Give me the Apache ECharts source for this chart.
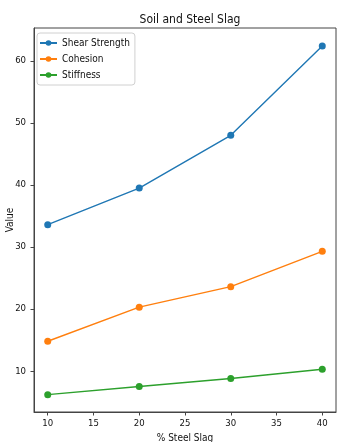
<!DOCTYPE html>
<html>
<head>
<meta charset="utf-8">
<script src="https://cdn.jsdelivr.net/npm/echarts@6/dist/echarts.min.js"></script>
<style>html,body{margin:0;padding:0;background:#fff;}#c{width:344px;height:442px;}</style>
</head>
<body>
<div id="c"></div>
<script>
var xValues = [10, 20, 30, 40];
var shearStrength = [33.6, 39.5, 48.0, 62.4];
var cohesion = [14.8, 20.3, 23.6, 29.3];
var stiffness = [6.2, 7.5, 8.8, 10.3];
var xTicks = [10, 15, 20, 25, 30, 35, 40];
var yTicks = [10, 20, 30, 40, 50, 60];

var FONT = "'DejaVu Sans Condensed', 'DejaVu Sans', sans-serif";
function pairs(ys) { return xValues.map(function (x, i) { return [x, ys[i]]; }); }
function series(name, ys, color) {
  return {
    name: name, type: 'line', data: pairs(ys),
    symbol: 'circle', symbolSize: 7,
    lineStyle: { color: color, width: 1.4 },
    itemStyle: { color: color },
    emphasis: { disabled: true },
    animation: false
  };
}
var chart = echarts.init(document.getElementById('c'), null, { renderer: 'canvas' });
chart.setOption({
  animation: false,
  backgroundColor: '#fff',
  title: {
    text: 'Soil and Steel Slag', left: 185, top: 9, textAlign: 'center',
    textStyle: { fontFamily: FONT, fontSize: 12, fontWeight: 'normal', color: '#111' }
  },
  legend: {
    orient: 'vertical', left: 37, top: 33,
    itemWidth: 17, itemHeight: 7, itemGap: 4,
    padding: [4, 5, 4, 2],
    borderColor: '#d0d0d0', borderWidth: 1, borderRadius: 3,
    backgroundColor: 'rgba(255,255,255,0.8)',
    textStyle: { fontFamily: FONT, fontSize: 10, color: '#111', lineHeight: 12 }
  },
  grid: { left: 34, right: 8, top: 28, bottom: 30, containLabel: false, outerBoundsMode: 'none', show: true, borderColor: '#444', borderWidth: 1, backgroundColor: 'transparent' },
  xAxis: {
    type: 'value', min: 8.5, max: 41.5,
    name: '% Steel Slag', nameLocation: 'middle', nameGap: 21, nameMoveOverlap: false,
    nameTextStyle: { fontFamily: FONT, fontSize: 10, color: '#111' },
    axisLine: { show: true, lineStyle: { color: '#444' } },
    axisTick: { show: true, length: 3.5, customValues: xTicks, lineStyle: { color: '#444' } },
    axisLabel: { customValues: xTicks, fontFamily: FONT, fontSize: 9.5, color: '#111', margin: 7 },
    splitLine: { show: false }
  },
  yAxis: {
    type: 'value', min: 3.4, max: 65.3,
    name: 'Value', nameLocation: 'middle', nameGap: 19, nameMoveOverlap: false,
    nameTextStyle: { fontFamily: FONT, fontSize: 10, color: '#111' },
    axisLine: { show: true, lineStyle: { color: '#444' } },
    axisTick: { show: true, length: 3.5, customValues: yTicks, lineStyle: { color: '#444' } },
    axisLabel: { customValues: yTicks, fontFamily: FONT, fontSize: 9.5, color: '#111', margin: 8 },
    splitLine: { show: false }
  },
  series: [
    series('Shear Strength', shearStrength, '#1f77b4'),
    series('Cohesion', cohesion, '#ff7f0e'),
    series('Stiffness', stiffness, '#2ca02c')
  ]
});
</script>
</body>
</html>
